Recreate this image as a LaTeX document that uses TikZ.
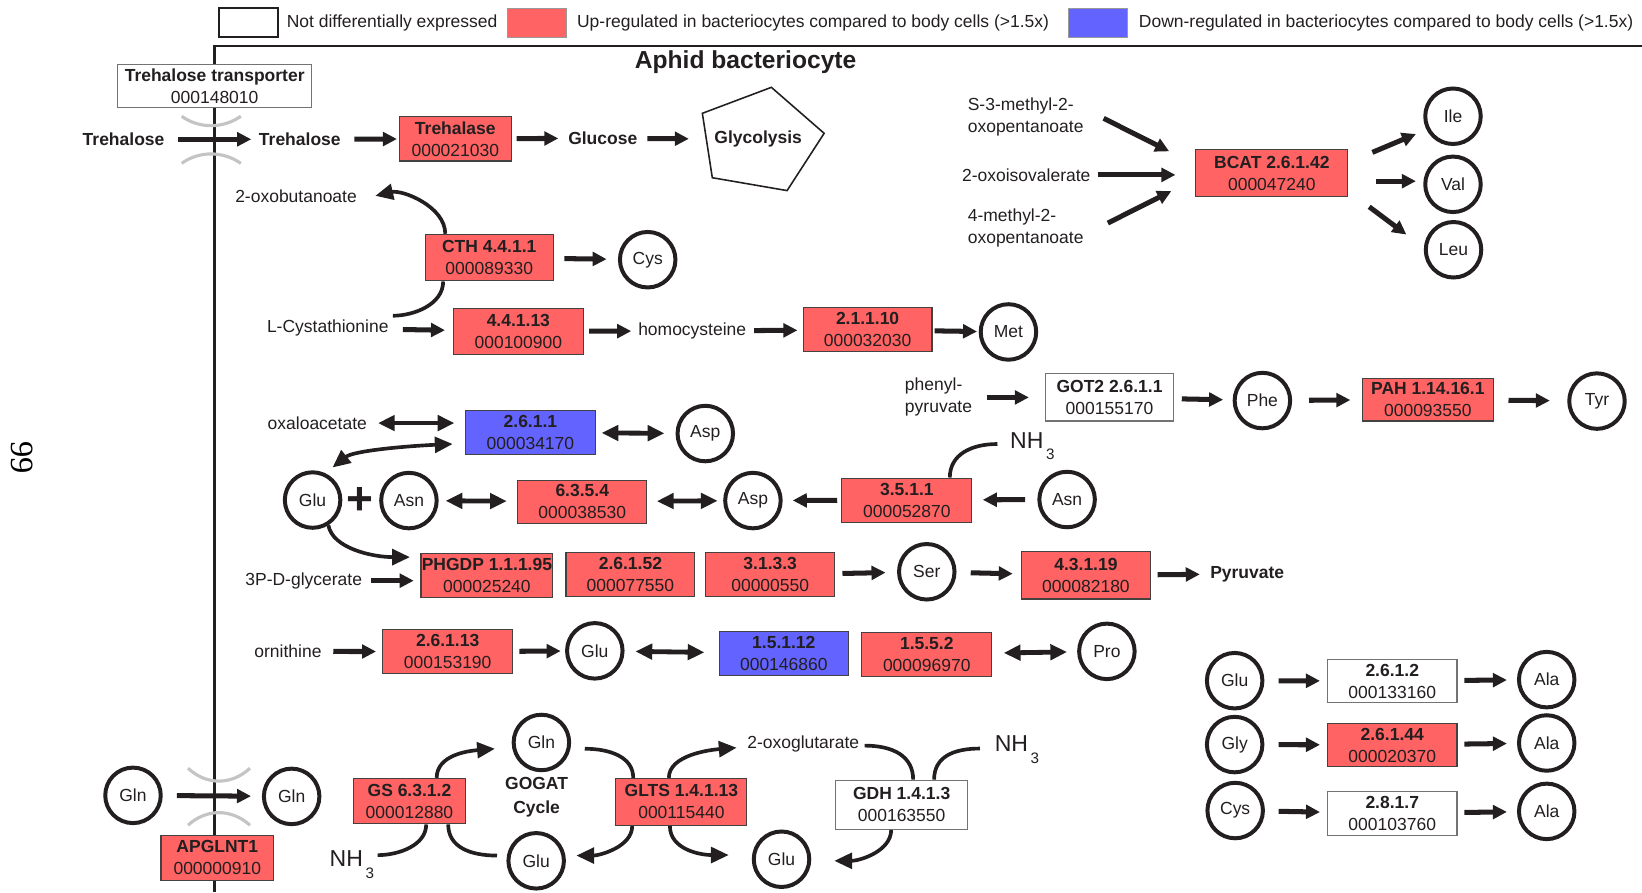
\documentclass[tikz,border=0pt]{standalone}
\usepackage{fontspec}
\setmainfont{Liberation Sans}
\newfontfamily\pnfont{Liberation Serif}
\usetikzlibrary{arrows.meta}
\definecolor{ink}{HTML}{231F20}
\definecolor{upred}{RGB}{255,99,99}
\definecolor{downblue}{RGB}{99,99,255}
\definecolor{memgray}{RGB}{196,196,196}
\newcommand{\lf}{\fontsize{16.7}{21}\selectfont}
\newcommand{\enz}[2]{\textbf{#1}\\#2}
\newcommand{\nhthree}{{\fontsize{22}{22}\selectfont NH}\hspace{2.5pt}\raisebox{-11pt}{\fontsize{14.5}{14.5}\selectfont 3}}
\begin{document}
\begin{tikzpicture}[x=1pt,y=-1pt,
 enzbox/.style={draw=ink!85, line width=1pt, align=center, inner sep=0pt, font=\lf, text=ink, minimum width=123pt, minimum height=42pt},
 upbox/.style={enzbox, fill=upred},
 downbox/.style={enzbox, fill=downblue},
 ndebox/.style={enzbox, fill=white, draw=black!55},
 metab/.style={circle, draw=ink, line width=3.8pt, minimum size=53pt, inner sep=0pt, font=\lf, text=ink},
 lbl/.style={inner sep=0pt, font=\lf, text=ink},
 blbl/.style={inner sep=0pt, font=\lf\bfseries, text=ink},
 fa/.style={draw=ink, line width=4.8pt, -{Triangle[length=13.4pt,width=13pt]}},
 fda/.style={draw=ink, line width=4.6pt, {Triangle[length=16pt,width=14.5pt]}-{Triangle[length=16pt,width=14.5pt]}},
 cl/.style={draw=ink, line width=3.5pt},
 ca/.style={cl, -{Triangle[length=17pt,width=15pt]}},
 cda/.style={cl, {Triangle[length=17pt,width=15pt]}-{Triangle[length=17pt,width=15pt]}},
 mem/.style={draw=memgray, line width=3pt},
 nh/.style={inner sep=0pt, anchor=base west, text=ink},
]
\useasboundingbox (0,0) rectangle (1568,852);

% legend
\node[draw=ink, line width=1.8pt, minimum width=57pt, minimum height=28pt, inner sep=0pt] (lgW) at (237.3,21.6) {};
\node[lbl, anchor=west] (lgWt) at (273.7,21.6) {Not differentially expressed};
\node[fill=upred, draw=black!40, line width=0.6pt, minimum width=56.5pt, minimum height=28pt, inner sep=0pt] (lgR) at (512.6,21.6) {};
\node[lbl, anchor=west] (lgRt) at (550.9,21.6) {Up-regulated in bacteriocytes compared to body cells (>1.5x)};
\node[fill=downblue, draw=black!40, line width=0.6pt, minimum width=57pt, minimum height=28pt, inner sep=0pt] (lgB) at (1048.4,21.6) {};
\node[lbl, anchor=west] (lgBt) at (1087.4,21.6) {Down-regulated in bacteriocytes compared to body cells (>1.5x)};

% frame
\draw[ink, line width=2.4pt] (205,852) -- (205,44) -- (1568,44);
\node[anchor=base, inner sep=0pt, text=ink, font=\fontsize{23.5}{26}\selectfont\bfseries] (title) at (712,65.3) {Aphid bacteriocyte};
\node[rotate=-90, inner sep=0pt, font=\pnfont\fontsize{31}{31}\selectfont] (pgno) at (20.7,437) {99};

% membrane channels
\draw[mem] (173.5,111) .. controls (190,123) and (213,123) .. (230,111);
\draw[mem] (173.5,156) .. controls (190,144) and (213,144) .. (230,156);
\draw[mem] (179.6,733.6) .. controls (197,750) and (221,750) .. (238.7,733.6);
\draw[mem] (179.6,788) .. controls (197,772) and (221,772) .. (238.7,788);

% trehalose row
\node[ndebox, minimum width=185pt, minimum height=41pt] (tt) at (205,82) {\enz{Trehalose transporter}{000148010}};
\node[blbl] (treL) at (118,133) {Trehalose};
\node[blbl] (treR) at (286.3,133) {Trehalose};
\node[upbox, minimum width=107.5pt, minimum height=42.3pt] (trehalase) at (434.8,132.6) {\enz{Trehalase}{000021030}};
\node[blbl] (glucose) at (575.6,132) {Glucose};
\draw[ink, line width=1.5pt] (736.6,83.4) -- (787,127.3) -- (751.6,182) -- (680.2,169.7) -- (670.7,108.2) -- cycle;
\node[blbl] (glyc) at (724,133) {Glycolysis};

% CTH
\node[lbl] (oxobut) at (282.7,187) {2-oxobutanoate};
\node[upbox, minimum width=122.4pt, minimum height=44.5pt] (cthB) at (467.2,246) {\enz{CTH 4.4.1.1}{000089330}};
\node[metab] (cys1) at (618.5,248) {Cys};
\node[lbl] (lcys) at (313,313.5) {L-Cystathionine};
\node[upbox, minimum width=123.5pt, minimum height=44pt] (b4413) at (495,316.5) {\enz{4.4.1.13}{000100900}};
\node[lbl] (homocys) at (661,316) {homocysteine};
\node[upbox, minimum height=42pt] (b2110) at (828.5,315) {\enz{2.1.1.10}{000032030}};
\node[metab] (metC) at (963,317) {Met};

% BCAT
\node[lbl, anchor=west, align=left] (s3m) at (924,111.5) {S-3-methyl-2-\\oxopentanoate};
\node[lbl] (oxoiso) at (980,167) {2-oxoisovalerate};
\node[lbl, anchor=west, align=left] (m4) at (924,218) {4-methyl-2-\\oxopentanoate};
\node[upbox, minimum width=145pt, minimum height=45pt] (bcat) at (1214.5,165.5) {\enz{BCAT 2.6.1.42}{000047240}};
\node[metab] (ile) at (1387.5,111) {Ile};
\node[metab] (val) at (1387.5,176) {Val};
\node[metab] (leu) at (1388,238.5) {Leu};

% phenylalanine
\node[lbl, anchor=west, align=left] (phenyl) at (864,379.5) {phenyl-\\pyruvate};
\node[ndebox, minimum height=45pt] (got2) at (1059.5,379.5) {\enz{GOT2 2.6.1.1}{000155170}};
\node[metab] (phe) at (1205.5,382.5) {Phe};
\node[upbox, minimum width=125pt, minimum height=41pt] (pah) at (1363.5,381.5) {\enz{PAH 1.14.16.1}{000093550}};
\node[metab] (tyr) at (1525,383) {Tyr};

% aspartate / asparagine
\node[lbl] (oxalo) at (303,404) {oxaloacetate};
\node[downbox, minimum width=123.5pt, minimum height=41.5pt] (b2611) at (506.5,413) {\enz{2.6.1.1}{000034170}};
\node[metab] (asp1) at (673.5,414) {Asp};
\node[metab] (glu1) at (298.5,477.5) {Glu};
\node[inner sep=0pt, text=ink, font=\fontsize{44}{44}\selectfont\bfseries] (plus) at (344,478) {+};
\node[metab] (asn1) at (390.5,478) {Asn};
\node[upbox, minimum width=123.5pt, minimum height=41pt] (b6354) at (556,479) {\enz{6.3.5.4}{000038530}};
\node[metab] (asp2) at (719,478) {Asp};
\node[upbox, minimum width=124pt, minimum height=42pt] (b3511) at (866,477.5) {\enz{3.5.1.1}{000052870}};
\node[nh] (nh3b) at (964.5,428) {\nhthree};
\node[metab] (asn2) at (1019,477) {Asn};

% serine
\node[lbl] (g3p) at (290,554.5) {3P-D-glycerate};
\node[upbox, minimum width=126pt] (phgdp) at (465,549.5) {\enz{PHGDP 1.1.1.95}{000025240}};
\node[upbox] (b26152) at (602,549) {\enz{2.6.1.52}{000077550}};
\node[upbox] (b3133) at (735.5,549) {\enz{3.1.3.3}{00000550}};
\node[metab] (ser) at (885,546) {Ser};
\node[upbox, minimum height=45pt] (b43119) at (1037,549.5) {\enz{4.3.1.19}{000082180}};
\node[blbl] (pyr) at (1191,548) {Pyruvate};

% proline
\node[lbl] (orn) at (275,622) {ornithine};
\node[upbox, minimum width=124pt, minimum height=41.5pt] (b26113) at (427.5,622.3) {\enz{2.6.1.13}{000153190}};
\node[metab] (glu2o) at (568,621.5) {Glu};
\node[downbox] (b15112) at (748.5,624) {\enz{1.5.1.12}{000146860}};
\node[upbox, minimum width=124pt] (b1552) at (885,624.6) {\enz{1.5.5.2}{000096970}};
\node[metab] (pro) at (1057,622) {Pro};

% alanine
\node[metab] (gluA) at (1179,650) {Glu};
\node[ndebox, minimum width=123.6pt, minimum height=41.4pt] (b2612) at (1329.5,650.3) {\enz{2.6.1.2}{000133160}};
\node[metab] (alaA) at (1477,649) {Ala};
\node[metab] (gly) at (1179,711) {Gly};
\node[upbox, minimum width=123.6pt, minimum height=41.4pt] (b26144) at (1329.5,711.4) {\enz{2.6.1.44}{000020370}};
\node[metab] (alaB) at (1477,709.5) {Ala};
\node[metab] (cysB) at (1179.5,774) {Cys};
\node[ndebox, minimum width=123.6pt, minimum height=41.4pt] (b2817) at (1329.5,776.7) {\enz{2.8.1.7}{000103760}};
\node[metab] (alaC) at (1477,774.8) {Ala};

% glutamine transport
\node[metab] (glnL) at (127,759.5) {Gln};
\node[metab] (glnR) at (278.5,760.5) {Gln};
\node[upbox, minimum width=107.5pt, minimum height=43pt] (apg) at (207.5,819) {\enz{APGLNT1}{000000910}};

% GOGAT cycle
\node[upbox, minimum width=107pt, minimum height=43.5pt] (gs) at (391,765) {\enz{GS 6.3.1.2}{000012880}};
\node[nh] (nh3a) at (314.6,827.6) {\nhthree};
\node[metab] (gln2) at (517,709) {Gln};
\node[inner sep=0pt, text=ink, align=center, font=\fontsize{16.7}{22.5}\selectfont\bfseries] (gogat) at (512.4,761) {GOGAT\\Cycle};
\node[metab] (glu2) at (512,822) {Glu};
\node[upbox, minimum width=125pt, minimum height=45pt] (glts) at (650.7,765.8) {\enz{GLTS 1.4.1.13}{000115440}};
\node[lbl] (oxoglu) at (767,710) {2-oxoglutarate};
\node[metab] (glu3) at (746.3,820.5) {Glu};
\node[ndebox, minimum width=126pt, minimum height=47pt] (gdh) at (861,768.5) {\enz{GDH 1.4.1.3}{000163550}};
\node[nh] (nh3c) at (949.8,717.8) {\nhthree};

% straight arrows
\draw[fa, shorten <=12.4pt, shorten >=7.2pt] (treL) -- (treR);
\draw[fa, shorten <=12.9pt, shorten >=1.5pt] (treR) -- (trehalase);
\draw[fa, shorten <=4.3pt, shorten >=9.3pt] (trehalase) -- (glucose);
\draw[fa, shorten <=9.5pt, shorten >=24.2pt] (glucose) -- (glyc);
\draw[fa, shorten <=10pt, shorten >=10.8pt] (cthB) -- (cys1);
\draw[fa, shorten <=13.5pt, shorten >=7.8pt] (lcys) -- (b4413);
\draw[fa, shorten <=5.3pt, shorten >=6.5pt] (b4413) -- (homocys);
\draw[fa, shorten <=7.5pt, shorten >=5pt] (homocys) -- (b2110);
\draw[fa, shorten <=2pt, shorten >=1.6pt] (b2110) -- (metC);
\draw[fa] ([shift={(19pt,-1.5pt)}]s3m.east) -- ([shift={(-25pt,-2pt)}]bcat.north west);
\draw[fa, shorten <=6.8pt, shorten >=19pt] (oxoiso.east) -- (oxoiso.east -| bcat.west);
\draw[fa] ([shift={(23pt,5pt)}]m4.east) -- ([shift={(-23pt,6pt)}]bcat.south west);
\draw[fa] ([shift={(23pt,-3pt)}]bcat.north east) -- ([shift={(-7pt,-17pt)}]ile.west);
\draw[fa] ([shift={(26pt,-7.5pt)}]bcat.east) -- ([shift={(-7pt,3pt)}]val.west);
\draw[fa] ([shift={(20pt,-9pt)}]bcat.south east) -- ([shift={(-16.6pt,14.5pt)}]leu.west);
\draw[fa, shorten <=14pt, shorten >=15pt] (phenyl.east) -- (got2.west);
\draw[fa, shorten <=7pt, shorten >=9.1pt] (got2) -- (phe);
\draw[fa, shorten <=16.1pt, shorten >=11pt] (phe) -- (pah);
\draw[fa, shorten <=14pt, shorten >=16.6pt] (pah) -- (tyr);
\draw[fda, shorten <=10.4pt, shorten >=10.3pt] (oxalo.east) -- (oxalo.east -| b2611.west);
\draw[fda, shorten <=5.8pt, shorten >=10.6pt] (b2611) -- (asp1);
\draw[fda, shorten <=6.6pt, shorten >=9.8pt] (asn1) -- (b6354);
\draw[fda, shorten <=9pt, shorten >=5.3pt] (b6354) -- (asp2);
\draw[fa, shorten <=4pt, shorten >=9.6pt] (b3511) -- (asp2);
\draw[fa, shorten <=11.6pt, shorten >=10pt] (asn2) -- (b3511);
\draw[fa, shorten <=8.8pt, shorten >=6.4pt] (g3p.east) -- (g3p.east -| phgdp.west);
\draw[fa, shorten <=7pt, shorten >=11pt] (b3133) -- (ser);
\draw[fa, shorten <=13.6pt, shorten >=7.9pt] (ser) -- (b43119);
\draw[fa, shorten <=6.5pt, shorten >=9.8pt] (b43119) -- (pyr);
\draw[fa, shorten <=11pt, shorten >=5.9pt] (orn) -- (b26113);
\draw[fa, shorten <=6pt, shorten >=4.2pt] (b26113) -- (glu2o);
\draw[fda, shorten <=10.4pt, shorten >=13.8pt] (glu2o) -- (b15112);
\draw[fda, shorten <=11pt, shorten >=9.6pt] (b1552) -- (pro);
\draw[fa, shorten <=13.6pt, shorten >=6.7pt] (gluA) -- (b2612);
\draw[fa, shorten <=6.5pt, shorten >=9.6pt] (b2612) -- (alaA);
\draw[fa, shorten <=13.6pt, shorten >=6.7pt] (gly) -- (b26144);
\draw[fa, shorten <=6.5pt, shorten >=9.6pt] (b26144) -- (alaB);
\draw[fa, shorten <=13.1pt, shorten >=6.7pt] (cysB) -- (b2817);
\draw[fa, shorten <=6.5pt, shorten >=9.6pt] (b2817) -- (alaC);
\draw[fa, shorten <=13.4pt, shorten >=10.4pt] (glnL) -- (glnR);

% curved connectors
\draw[ca] ([xshift=-42pt]cthB.north) .. controls +(0,-26) and +(26,-6) .. ([xshift=17.5pt]oxobut.east);
\draw[cl] ([xshift=-44pt]cthB.south) .. controls +(0,22) and +(20,0) .. ([shift={(4pt,12pt)}]lcys.east);
\draw[cda] ([shift={(4pt,7pt)}]glu1.58) .. controls +(20,-16) and +(-45,2) .. ([shift={(-12pt,-11pt)}]b2611.west);
\draw[ca] (glu1.-58) .. controls +(4,22) and +(-36,0) .. ([shift={(-10pt,-4pt)}]phgdp.north west);
\draw[cl] ([xshift=41pt]b3511.north) .. controls +(0,-22) and +(-25,0) .. ([shift={(-12pt,4pt)}]nh3b.base west);
\draw[ca] ([xshift=26pt]gs.north) .. controls +(0,-22) and +(-25,2) .. ([shift={(-16pt,-6pt)}]gln2.west);
\draw[cl] ([xshift=16pt]gs.south) .. controls +(0,20) and +(20,0) .. ([shift={(46pt,11pt)}]nh3a.base west);
\draw[cl] ([xshift=37pt]gs.south) .. controls +(0,22) and +(-25,0) .. ([shift={(-9pt,5pt)}]glu2.west);
\draw[cl] ([shift={(13pt,-6pt)}]gln2.east) .. controls +(24,0) and +(0,-20) .. ([xshift=-46pt]glts.north);
\draw[ca] ([xshift=-12pt]glts.north) .. controls +(0,-22) and +(-25,2) .. ([shift={(-10pt,-4pt)}]oxoglu.west);
\draw[ca] ([xshift=-47pt]glts.south) .. controls +(0,20) and +(22,0) .. ([shift={(10pt,5pt)}]glu2.east);
\draw[ca] ([xshift=-11pt]glts.south) .. controls +(0,22) and +(-28,0) .. ([shift={(-22pt,4pt)}]glu3.west);
\draw[cl] ([shift={(5pt,-2pt)}]oxoglu.east) .. controls +(28,0) and +(0,-22) .. ([xshift=11pt]gdh.north);
\draw[cl] ([shift={(-14pt,3pt)}]nh3c.base west) .. controls +(-25,0) and +(0,-22) .. ([xshift=31pt]gdh.north);
\draw[ca] ([xshift=-10pt]gdh.south) .. controls +(0,20) and +(25,0) .. ([shift={(22pt,-1.5pt)}]glu3.east);
\end{tikzpicture}
\end{document}
